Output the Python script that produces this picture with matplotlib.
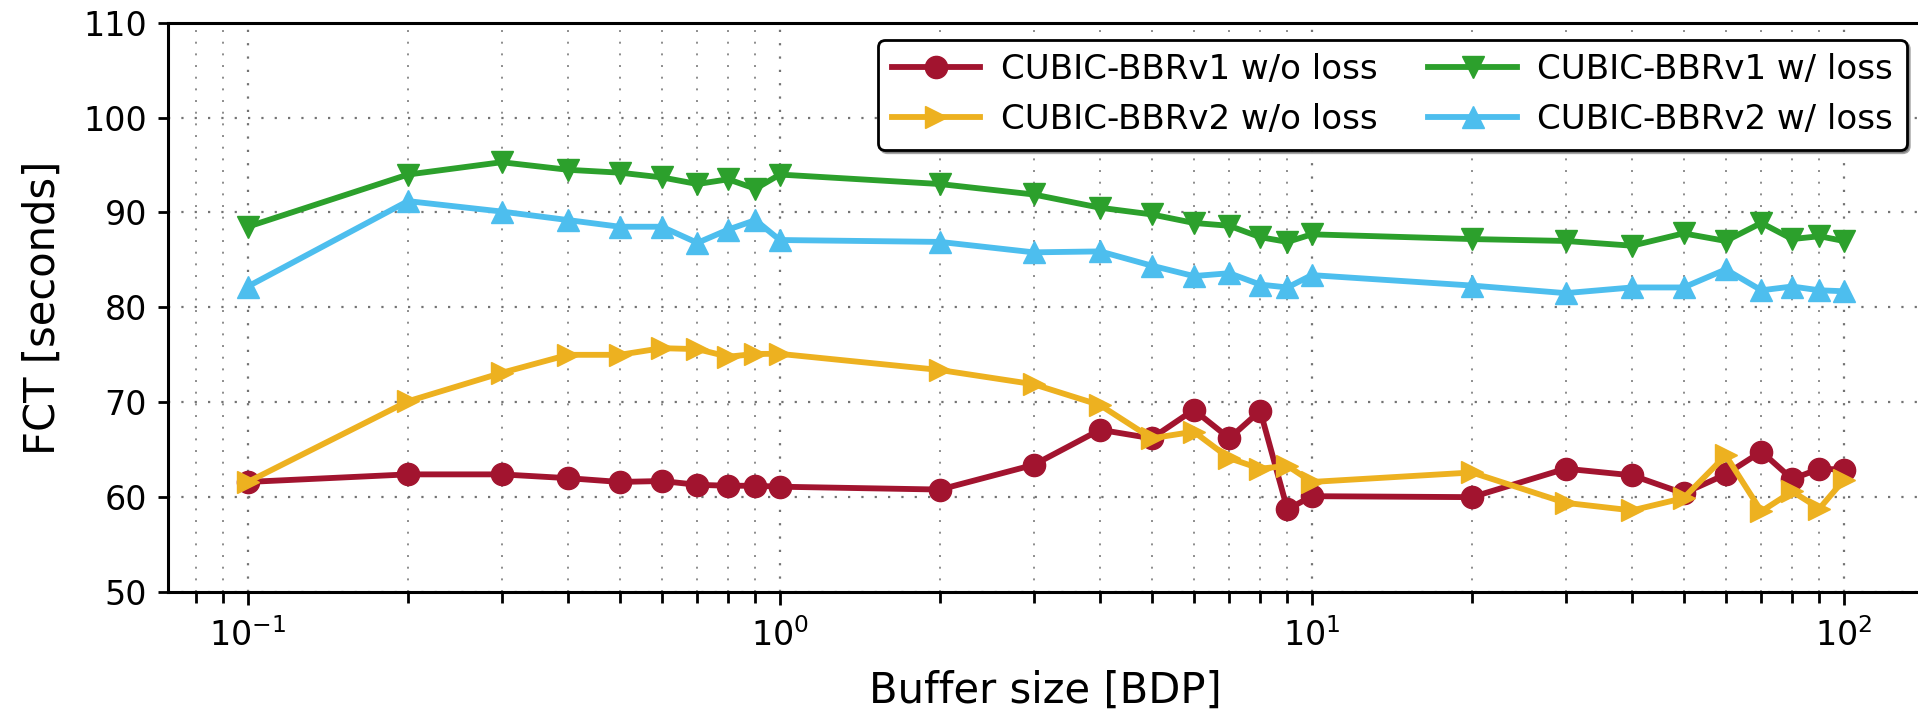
import matplotlib
matplotlib.use("Agg")
import matplotlib.pyplot as plt

# Buffer sizes (in BDP) and flow completion times (seconds)
buffer_bdp = [0.1, 0.2, 0.3, 0.4, 0.5, 0.6, 0.7, 0.8, 0.9, 1,
              2, 3, 4, 5, 6, 7, 8, 9, 10,
              20, 30, 40, 50, 60, 70, 80, 90, 100]

bbrv1_no_loss = [61.6, 62.4, 62.4, 62.0, 61.6, 61.7, 61.3, 61.2, 61.2, 61.1,
                 60.8, 63.4, 67.1, 66.2, 69.2, 66.2, 69.1, 58.7, 60.1,
                 60.0, 63.0, 62.3, 60.4, 62.4, 64.8, 61.9, 63.0, 62.9]

bbrv2_no_loss = [61.6, 70.1, 73.1, 75.0, 75.0, 75.7, 75.6, 74.8, 75.1, 75.1,
                 73.4, 71.9, 69.7, 66.2, 66.9, 64.1, 63.0, 63.3, 61.6,
                 62.6, 59.4, 58.6, 59.9, 64.4, 58.5, 60.6, 58.8, 61.8]

bbrv1_loss = [88.5, 94.0, 95.3, 94.5, 94.2, 93.7, 93.0, 93.5, 92.5, 94.0,
              93.0, 91.9, 90.5, 89.8, 88.9, 88.6, 87.4, 86.9, 87.7,
              87.2, 87.0, 86.5, 87.8, 87.0, 88.9, 87.2, 87.5, 87.0]

bbrv2_loss = [82.2, 91.2, 90.1, 89.2, 88.5, 88.5, 86.8, 88.2, 89.2, 87.1,
              86.9, 85.8, 85.9, 84.4, 83.3, 83.6, 82.4, 82.1, 83.4,
              82.3, 81.5, 82.1, 82.1, 84.0, 81.8, 82.2, 81.8, 81.7]

series = [
    ("CUBIC-BBRv1 w/o loss", bbrv1_no_loss, "#A2142F", "o"),
    ("CUBIC-BBRv2 w/o loss", bbrv2_no_loss, "#EDB120", ">"),
    ("CUBIC-BBRv1 w/ loss", bbrv1_loss, "#2CA02C", "v"),
    ("CUBIC-BBRv2 w/ loss", bbrv2_loss, "#4DBEEE", "^"),
]

fig = plt.figure(figsize=(19.18, 7.15), dpi=100)
ax = fig.add_axes([0.0876, 0.172, 0.9153, 0.7962])

for label, values, color, marker in series:
    ax.plot(buffer_bdp, values, color=color, marker=marker, markersize=16,
            linewidth=4.2, label=label)

ax.set_xscale("log")
ax.set_ylim(50, 110)
ax.set_yticks([50, 60, 70, 80, 90, 100, 110])

dots = (0, (1, 5))
ax.grid(True, which="major", axis="both", linestyle=dots, color="0.45",
        linewidth=1.6)
ax.grid(True, which="minor", axis="x", linestyle=dots, color="0.55",
        linewidth=1.4)
ax.set_axisbelow(True)

for side in ax.spines.values():
    side.set_linewidth(2.2)
    side.set_color("black")

ax.tick_params(axis="both", which="both", direction="out", width=2,
               labelsize=24, colors="black")
ax.tick_params(axis="x", which="major", length=9, pad=10)
ax.tick_params(axis="x", which="minor", length=8)
ax.tick_params(axis="y", which="major", length=7, pad=8)

ax.set_xlabel("Buffer size [BDP]", fontsize=30, labelpad=12)
ax.set_ylabel("FCT [seconds]", fontsize=30, labelpad=14)

leg = ax.legend(ncol=2, loc="upper right", fontsize=24.5, frameon=True,
                fancybox=True, shadow=True, framealpha=1,
                edgecolor="black", handlelength=2.6, handletextpad=0.6,
                columnspacing=1.5, borderpad=0.4, labelspacing=0.5)
leg.get_frame().set_linewidth(2)

fig.savefig("out.png", dpi=100)
